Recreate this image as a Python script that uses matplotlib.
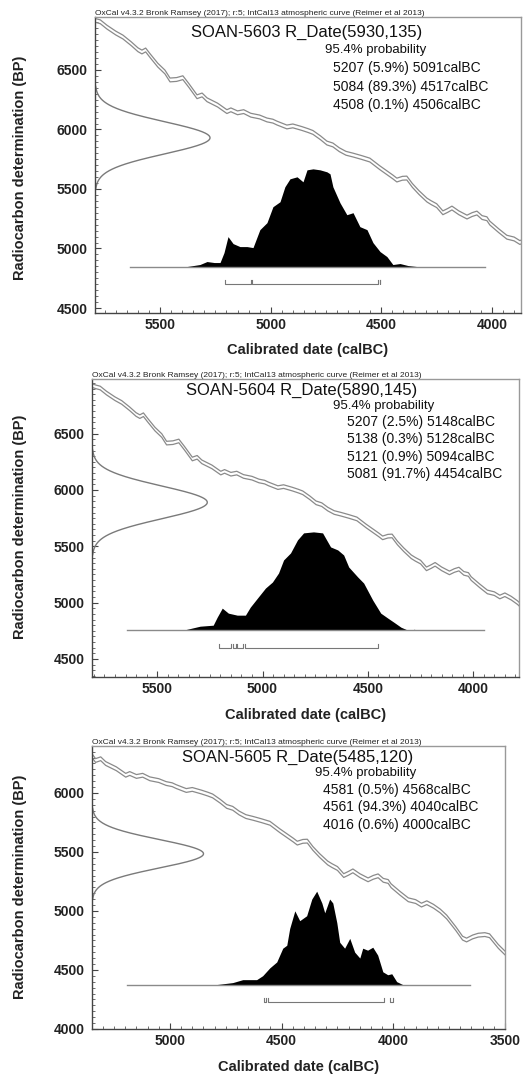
import matplotlib
matplotlib.use('Agg')
import matplotlib.pyplot as plt
import numpy as np
from matplotlib.ticker import MultipleLocator
from matplotlib.transforms import blended_transform_factory

plt.rcParams['font.family'] = ['Liberation Sans', 'DejaVu Sans']

W, H = 525, 1075

header = "OxCal v4.3.2 Bronk Ramsey (2017); r:5; IntCal13 atmospheric curve (Reimer et al 2013)"

# IntCal13 calibration curve (calBC, BP)
curve_cal = [5815, 5790, 5770, 5740, 5700, 5668, 5630, 5600, 5582, 5565, 5545, 5510, 5478, 5455,
             5425, 5397, 5370, 5333, 5310, 5288, 5240, 5198, 5180, 5150, 5122, 5090, 5050, 5017,
             4990, 4972, 4927, 4900, 4859, 4830, 4809, 4775, 4746, 4719, 4690, 4660, 4628, 4590,
             4552, 4508, 4470, 4448, 4430, 4405, 4385, 4360, 4330, 4294, 4275, 4250, 4222, 4200,
             4181, 4150, 4113, 4090, 4068, 4045, 4023, 4010, 3970, 3933, 3900, 3874, 3850, 3820,
             3790, 3761, 3720, 3690, 3672, 3645, 3620, 3590, 3569, 3530, 3500, 3490]
curve_bp = [6930, 6915, 6905, 6860, 6810, 6777, 6720, 6670, 6651, 6668, 6620, 6540, 6483, 6416,
            6420, 6435, 6370, 6275, 6290, 6250, 6205, 6150, 6165, 6140, 6150, 6120, 6105, 6080,
            6070, 6054, 6021, 6030, 6008, 5990, 5975, 5930, 5886, 5870, 5830, 5800, 5785, 5765,
            5743, 5680, 5630, 5601, 5575, 5590, 5592, 5530, 5470, 5407, 5385, 5360, 5300, 5320,
            5340, 5300, 5264, 5285, 5298, 5260, 5250, 5214, 5150, 5095, 5080, 5050, 5070, 5040,
            5000, 4949, 4850, 4770, 4754, 4780, 4795, 4800, 4790, 4700, 4644, 4630]
curve_err = 16

names = ["SOAN-5603", "SOAN-5604", "SOAN-5605"]
r_mean = [5930, 5890, 5485]
r_sd = [135, 145, 120]

ranges = [
    [(5207, 5.9, 5091), (5084, 89.3, 4517), (4508, 0.1, 4506)],
    [(5207, 2.5, 5148), (5138, 0.3, 5128), (5121, 0.9, 5094), (5081, 91.7, 4454)],
    [(4581, 0.5, 4568), (4561, 94.3, 4040), (4016, 0.6, 4000)],
]

dist_cal = [
    [5378, 5320, 5288, 5255, 5229, 5211, 5193, 5170, 5139, 5107, 5080, 5049, 5017, 4990, 4958,
     4936, 4913, 4881, 4854, 4836, 4809, 4777, 4746, 4732, 4719, 4687, 4656, 4628, 4597, 4565,
     4538, 4506, 4475, 4448, 4416, 4380, 4340],
    [5377, 5296, 5234, 5215, 5191, 5162, 5120, 5081, 5058, 5024, 4986, 4953, 4924, 4900, 4867,
     4834, 4805, 4758, 4715, 4677, 4643, 4615, 4591, 4548, 4520, 4477, 4439, 4405, 4377, 4343,
     4310, 4290, 4280, 4270],
    [4791, 4719, 4674, 4612, 4585, 4553, 4522, 4495, 4477, 4464, 4441, 4419, 4388, 4365, 4343,
     4320, 4307, 4285, 4271, 4253, 4240, 4218, 4195, 4173, 4150, 4137, 4115, 4092, 4070, 4047,
     4025, 4007, 3985, 3958],
]
dist_p = [
    [0, 2, 5, 4, 4, 14, 30, 23, 20, 20, 19, 37, 44, 60, 65, 80, 88, 90, 85, 97, 98, 97, 95, 93,
     80, 64, 52, 54, 40, 37, 24, 15, 10, 2, 3, 1, 0],
    [0, 4, 5, 13, 22, 17, 15, 15, 23, 32, 42, 48, 57, 70, 77, 90, 97, 98, 97, 83, 80, 75, 63, 53,
     47, 30, 17, 12, 8, 3, 0, 0, 1, 0],
    [0, 2, 5, 5, 9, 17, 23, 37, 40, 57, 75, 65, 70, 87, 95, 83, 73, 87, 83, 63, 43, 37, 47, 33,
     27, 37, 35, 38, 30, 13, 10, 11, 3, 0],
]
baseline_span = [(5636, 4032), (5643, 3948), (5193, 3658)]

x_limits = [(5794, 3869), (5809, 3783), (5349, 3500)]
y_limits = [(4458, 6945), (4340, 6985), (4000, 6398)]

# layout (pixels)
axes_px = [(95, 521, 17, 313), (92, 519, 379, 677), (92, 505, 746, 1029)]
title_px = [(307, 32), (302, 390), (298, 757)]
prob_px = [(325, 50), (333, 406), (315, 773)]
rows_px = [(333, [68, 87, 105]), (347, [422, 439, 457, 474]), (323, [790, 807, 825])]
xlabel_y = [350, 715, 1067]
ylabel_px = [(20, 168), (20, 527), (20, 887)]

fig = plt.figure(figsize=(W / 100, H / 100), dpi=100)
fig.patch.set_facecolor('white')

def fx(x):
    return x / W

def fy(y):
    return 1 - y / H

for i in range(3):
    l, r, t, b = axes_px[i]
    ax = fig.add_axes([fx(l), fy(b), (r - l) / W, (b - t) / H])
    x0, x1 = x_limits[i]
    y0, y1 = y_limits[i]
    ax.set_xlim(x0, x1)
    ax.set_ylim(y0, y1)
    yr = y1 - y0

    # calibration curve
    cc = np.array(curve_cal)
    cb = np.array(curve_bp)
    ax.plot(cc, cb + curve_err, color='#8a8a8a', lw=0.9)
    ax.plot(cc, cb - curve_err, color='#8a8a8a', lw=0.9)

    # radiocarbon gaussian along y axis
    yy = np.linspace(r_mean[i] - 3.2 * r_sd[i], r_mean[i] + 3.2 * r_sd[i], 400)
    gx = 0.27 * np.exp(-0.5 * ((yy - r_mean[i]) / r_sd[i]) ** 2)
    trans = blended_transform_factory(ax.transAxes, ax.transData)
    ax.plot(gx, yy, color='#7a7a7a', lw=1.0, transform=trans)

    # calibrated distribution
    base = y0 + 0.157 * yr
    hmax = 0.33 * yr
    dc = np.array(dist_cal[i])
    dp = np.array(dist_p[i], dtype=float)
    ax.fill_between(dc, base, base + dp / dp.max() * hmax, color='black', lw=0)
    ax.plot(baseline_span[i], [base, base], color='#8a8a8a', lw=1.0)

    # 95.4% range brackets
    by = base - 0.06 * yr
    th = 0.013 * yr
    for (a, p, c) in ranges[i]:
        ax.plot([a, a, c, c], [by + th, by, by, by + th], color='#777777', lw=0.8)

    # ticks
    ax.xaxis.set_major_locator(MultipleLocator(500))
    ax.xaxis.set_minor_locator(MultipleLocator(50))
    ax.yaxis.set_major_locator(MultipleLocator(500))
    ax.yaxis.set_minor_locator(MultipleLocator(50))
    ax.tick_params(which='major', direction='in', length=4, width=0.8, color='#444444',
                   labelsize=10, labelcolor='#222222')
    ax.tick_params(which='minor', direction='in', length=2, width=0.6, color='#555555')
    ax.tick_params(axis='y', which='major', pad=5.5)
    ax.tick_params(axis='x', which='major', pad=3.5)
    for lab in ax.get_xticklabels() + ax.get_yticklabels():
        lab.set_fontweight('bold')
    for s in ['left', 'bottom']:
        ax.spines[s].set_color('#444444')
        ax.spines[s].set_linewidth(1.0)
    for s in ['top', 'right']:
        ax.spines[s].set_color('#999999')
        ax.spines[s].set_linewidth(1.0)

    ax.text(0.0, 1.0, header, transform=ax.transAxes, ha='left', va='bottom',
            fontsize=6.0, color='#222222')

    fig.text(fx(title_px[i][0]), fy(title_px[i][1]),
             f"{names[i]} R_Date({r_mean[i]},{r_sd[i]})",
             ha='center', va='center', fontsize=12, color='#111111')
    fig.text(fx(prob_px[i][0]), fy(prob_px[i][1]), "95.4% probability",
             ha='left', va='center', fontsize=9.5, color='#111111')
    rx, rys = rows_px[i]
    for (a, p, c), ry in zip(ranges[i], rys):
        fig.text(fx(rx), fy(ry), f"{a} ({p}%) {c}calBC",
                 ha='left', va='center', fontsize=10, color='#111111')

    fig.text(fx((l + r) / 2), fy(xlabel_y[i]), "Calibrated date (calBC)",
             ha='center', va='center', fontsize=10.5, fontweight='bold', color='#222222')
    fig.text(fx(ylabel_px[i][0]), fy(ylabel_px[i][1]), "Radiocarbon determination (BP)",
             ha='center', va='center', rotation=90, fontsize=10.5, fontweight='bold',
             color='#222222')

fig.savefig('out.png', dpi=100, facecolor='white')
